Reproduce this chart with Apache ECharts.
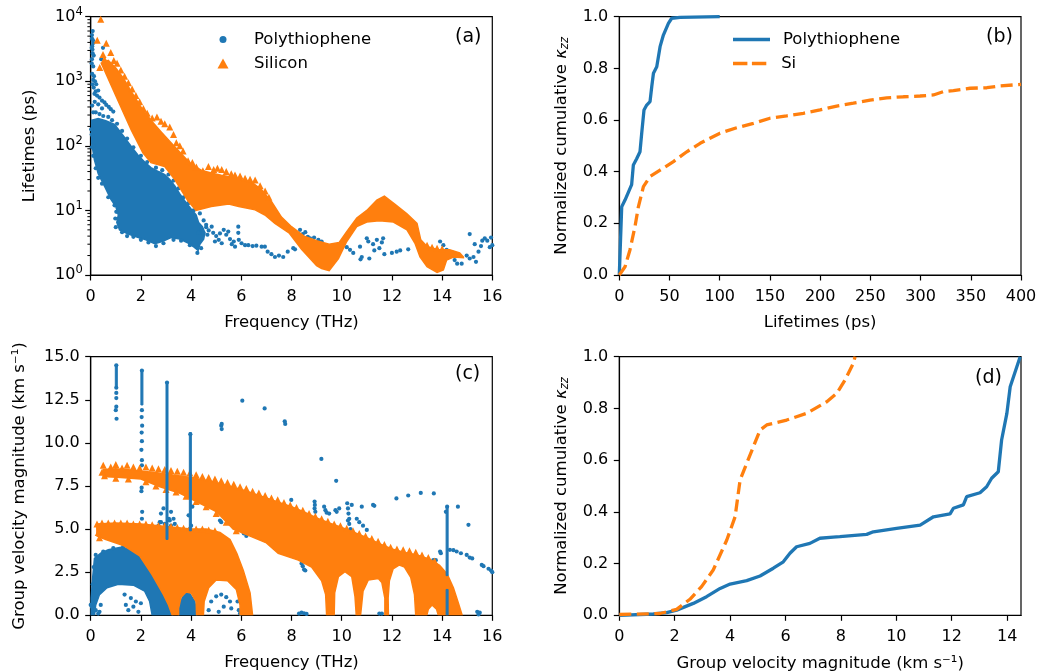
<!DOCTYPE html>
<html><head><meta charset="utf-8">
<script src="https://cdn.jsdelivr.net/npm/echarts@6/dist/echarts.min.js"></script>
<style>html,body{margin:0;padding:0;background:#fff}#c{width:1037px;height:672px}</style>
</head><body><div id="c"></div>
<script>
// ================= DATA =================
// ---- Panel (a): lifetimes vs frequency (log y)
const aMinorTicks = [2,3,4,5,6,7,8,9,20,30,40,50,60,70,80,90,200,300,400,500,600,700,800,900,2000,3000,4000,5000,6000,7000,8000,9000];
const aPolyCloud = [[0.04,250],[0.3,265],[0.6,245],[0.95,215],[1.15,170],[1.35,135],[1.6,100],[1.88,72],[2.15,56],[2.4,46],[2.7,40],[2.95,36],[3.15,30],[3.35,24],[3.55,18],[3.75,14],[4.0,10.5],[4.2,8.5],[4.3,6.5],[4.45,5.6],[4.55,4.5],[4.5,3.6],[4.35,3.0],[4.28,2.4],[4.12,2.7],[3.9,3.1],[3.55,3.6],[3.2,3.8],[2.85,3.3],[2.55,3.05],[2.2,3.5],[1.9,3.8],[1.5,4.3],[1.15,5.0],[1.04,6.5],[1.1,8.5],[1.0,11.5],[0.8,15],[0.57,23],[0.3,37],[0.15,60],[0.04,110]];
const aPolyPts = [[0.2,330],[0.35,310],[0.5,290],[0.7,280],[0.85,250],[1.05,220],[1.25,170],[1.45,130],[1.7,95],[2.0,70],[2.25,56],[2.6,46],[2.85,42],[3.1,36],[3.3,29],[3.5,22],[3.7,16],[3.9,13],[4.1,10],[4.35,9],[4.5,7],[4.6,5.5],[4.65,4.2],[4.4,2.6],[4.25,2.2],[3.95,2.9],[3.6,3.4],[3.3,3.5],[2.9,3.1],[2.6,2.8],[2.3,3.2],[2.0,3.5],[1.7,3.9],[1.45,4.0],[1.25,4.6],[1.0,5.5],[0.98,7.5],[1.02,9.5],[0.95,12],[0.7,16],[0.45,26],[0.3,32],[0.2,45],[0.1,70],[0.05,95],[0.08,140],[0.02,180],
  [0.08,6000],[0.05,4600],[0.1,3900],[0.07,3100],[0.12,2500],[0.05,2200],[0.49,3300],[0.42,2200],[0.1,1050],[0.17,1000],[0.22,900],[0.3,720],[0.12,800],[0.25,600],[0.35,560],[0.45,500],[0.55,470],[0.62,430],[0.72,400],[0.8,370],[0.9,340],[0.16,480],[0.3,440],[0.45,380],[0.06,420],[0.1,330],[0.04,150],[0.12,100],
  [0.05,5200],[0.06,3500],[0.08,2700],[0.04,1900],[0.1,1700],[0.06,1300],[0.09,4300],[0.04,3300],[0.13,1200],[0.07,900],[0.2,700],[0.15,640],
  [4.29,4.5],[4.49,4.5],[4.82,5.6],[4.88,4.5],[5.0,4.0],[5.1,3.5],[5.22,3.1],[5.48,4.7],[5.55,3.6],[5.62,3.0],[5.75,2.75],[5.88,5.6],[5.88,4.5],[5.9,3.5],[6.01,3.1],[6.15,2.9],[6.28,2.9],[6.45,2.8],[6.6,2.85],[6.81,2.75],[6.94,2.75],[7.05,2.3],[7.2,2.1],[7.34,1.9],[7.5,2.0],[7.67,1.9],[7.85,2.3],[8.07,2.6],[8.14,2.5],[8.34,5.0],[8.45,4.3],[8.55,4.6],[8.65,3.9],[8.74,3.7],[8.9,3.8],[9.07,3.5],[9.2,3.3],[10.2,2.7],[10.33,2.45],[10.46,2.2],[10.73,2.75],[10.8,1.9],[10.75,1.75],[11.0,3.7],[11.06,3.3],[11.1,1.8],[11.25,3.0],[11.3,2.4],[11.4,3.5],[11.5,2.6],[11.6,3.2],[11.65,3.7],[11.7,2.1],[12.0,2.2],[12.19,2.3],[12.33,2.4],[12.65,2.5],[13.25,2.75],[13.92,3.3],[14.05,2.9],[14.18,2.45],[14.3,2.0],[14.45,2.2],[14.5,1.7],[14.6,1.5],[14.78,1.5],[14.98,2.0],[15.1,1.8],[15.25,1.9],[15.35,1.6],[15.45,2.3],[15.55,2.8],[15.6,3.4],[15.7,3.7],[15.8,3.4],[15.9,2.7],[16.0,2.9],[15.95,3.8],[15.1,4.3],[15.3,3.0],
  [4.4,5.2],[4.6,6.0],[4.7,4.9],[5.3,5.0],[5.4,4.2],[5.7,3.3],[4.95,3.3],[5.15,4.4]];
const aSiBand = [[0.42,1900],[0.7,2100],[1.0,1600],[1.3,1120],[1.6,710],[2.0,400],[2.4,250],[2.8,166],[3.2,112],[3.6,76],[4.0,52],[4.4,42],[4.8,38],[5.2,35],[5.6,33],[6.0,30],[6.4,27.5],[6.8,21],[7.2,13.8],[7.6,7.9],[8.0,5.6],[8.5,4.0],[9.0,3.4],[9.5,3.0],[9.9,3.2],[10.2,4.7],[10.6,7.6],[11.0,10],[11.4,14.5],[11.7,16.6],[12.1,12.6],[12.6,8.9],[13.0,6.3],[13.15,3.5],[13.4,2.75],[13.9,2.45],[14.3,2.45],[14.7,2.2],[14.85,1.9],
  [14.85,1.85],[14.45,1.9],[14.18,1.7],[14.05,1.2],[13.8,1.1],[13.4,1.35],[13.12,1.9],[12.92,3.1],[12.6,5.0],[12.06,6.6],[11.5,6.9],[11.0,6.6],[10.6,5.6],[10.2,3.3],[9.87,1.8],[9.5,1.17],[9.2,1.26],[9.0,1.4],[8.4,2.5],[7.9,4.5],[7.34,6.3],[6.94,8.5],[6.55,10.2],[5.9,11.5],[5.5,12.6],[4.8,11.5],[4.2,10],[3.88,14],[3.35,30],[2.95,48],[2.4,55],[2.08,78],[1.62,175],[1.09,500],[0.56,1450]];
const aSiPts = [[0.4,9100],[0.26,4300],[0.62,3870],[0.8,2800],[0.49,2600],[0.36,1630],[0.55,2200],[0.92,2100],[1.05,1900],[1.2,1500],[1.35,1200],[1.5,950],[1.65,760],[1.8,600],[1.95,480],[2.1,380],[2.25,320],[2.45,270],[2.64,280],[2.8,240],[2.95,220],[3.15,195],[3.3,150],[3.41,112],[3.55,100],[3.68,83],[3.88,59],[4.05,55],[4.21,47],[4.47,41],[4.69,48],[4.9,43],[5.05,45],[5.22,43],[5.4,40],[5.6,37],[5.75,35.5],[5.95,34],[6.15,31.6],[6.35,30.5],[6.55,29.5],[6.75,24],[6.95,20],[7.1,16],[13.4,2.9],[13.6,2.7],[13.8,2.6],[14.0,2.55]];

// ---- Panel (b): cumulative kappa vs lifetime
const bPT = [[0,0],[2.4,0.264],[5.7,0.29],[9,0.32],[12.3,0.35],[14,0.426],[17.3,0.45],[20.6,0.477],[22.3,0.548],[24.6,0.639],[27.3,0.658],[30.6,0.671],[32.3,0.729],[34,0.781],[37.3,0.806],[40.6,0.884],[43.9,0.929],[48.9,0.974],[52.2,0.994],[60.5,0.997],[100,1.0]];
const bSi = [[0,0],[5.7,0.032],[10.6,0.097],[15.6,0.187],[19,0.264],[24,0.342],[30.6,0.381],[40.6,0.406],[53.9,0.439],[67.2,0.477],[80.5,0.51],[100.3,0.549],[116.9,0.570],[133.5,0.587],[150.1,0.607],[166.7,0.616],[183.3,0.626],[199.9,0.639],[216.5,0.654],[233.1,0.665],[249.7,0.677],[266.3,0.686],[282.9,0.69],[299.5,0.693],[312.8,0.697],[322.8,0.71],[332.7,0.714],[349.3,0.723],[366,0.725],[379.2,0.732],[400,0.738]];

// ---- Panel (c): group velocity vs frequency
const cBlueDome = [[0.02,0],[0.02,1.0],[0.08,2.2],[0.15,3.3],[0.4,3.6],[0.7,3.8],[1.2,3.95],[1.6,3.85],[1.96,3.45],[2.45,2.35],[2.9,1.2],[3.25,0],[2.45,0],[2.35,0.8],[2.15,1.4],[1.7,1.75],[1.1,1.8],[0.65,1.6],[0.35,1.2],[0.2,0.6],[0.15,0]];
const cBlueArch = [[3.5,0],[3.58,0.8],[3.75,1.3],[3.95,1.25],[4.15,0.8],[4.22,0]];
const cBlueLine1 = [[0.98,13.2],[1.06,13.2],[1.06,14.5],[0.98,14.5]];
const cBlueLine2 = [[2.0,12.2],[2.08,12.2],[2.08,14.2],[2.0,14.2]];
const cBlueLine3 = [[3.0,4.4],[3.08,4.4],[3.08,13.5],[3.0,13.5]];
const cBlueLine4 = [[3.93,4.9],[4.01,4.9],[4.01,10.6],[3.93,10.6]];
const cBlueLine5 = [[14.16,2.3],[14.24,2.3],[14.24,6.3],[14.16,6.3]];
const cBlueLine6 = [[14.16,0],[14.24,0],[14.24,1.5],[14.16,1.5]];
const cBluePts = [[1.02,12.6],[1.02,12.1],[1.0,11.9],[1.03,11.4],[1.02,12.9],[1.02,14.5],[1.02,13.2],
  [2.04,11.9],[2.03,11.5],[2.05,11.0],[2.03,10.6],[2.04,10.1],[2.02,9.6],[2.04,9.0],[2.04,8.7],[2.03,7.4],[2.02,7.2],[2.05,6.0],[2.04,5.6],[2.04,14.2],
  [3.04,13.5],[3.0,4.6],[2.95,5.3],[3.12,5.6],[2.9,5.0],[2.8,5.4],[3.2,5.2],[3.3,4.9],[2.75,5.4],[2.8,5.9],[2.9,6.2],[3.2,6.0],[3.3,5.6],[3.35,5.3],[2.7,5.2],[3.15,5.5],
  [3.97,10.5],[3.9,5.8],[4.05,6.3],[4.0,5.2],[3.95,5.0],
  [5.2,11.0],[5.22,10.8],[5.22,11.1],[6.04,12.45],[6.93,12.0],[7.73,11.25],[7.75,11.1],[9.19,9.07],[9.78,7.8],[7.99,6.69],[12.18,6.78],[12.65,6.95],[13.15,7.1],[13.67,7.07],[14.63,6.3],[15.05,5.25],
  [8.92,6.6],[8.93,6.4],[8.92,6.2],[8.95,6.0],[9.3,6.3],[9.35,6.1],[9.4,5.95],[9.5,5.9],[9.75,6.1],[9.8,6.0],[9.9,6.2],[10.22,6.5],[10.25,6.2],[10.27,5.9],[10.3,5.6],[10.3,5.3],[10.35,5.0],[10.25,5.5],[10.4,6.4],[10.6,5.6],[10.7,5.4],[10.8,6.3],[10.85,5.2],[11.0,4.95],[11.25,6.4],[11.3,6.35],
  [14.15,6.0],[14.2,6.3],
  [13.65,3.2],[13.75,3.2],[13.92,3.7],[13.95,3.6],[14.31,3.8],[14.45,3.78],[14.58,3.7],[14.75,3.6],[14.98,3.5],[15.1,3.35],[15.2,3.3],[15.58,2.92],[15.65,2.85],[15.85,2.7],[15.95,2.6],[16.0,2.5],
  [8.4,3.0],[8.45,2.85],[8.5,2.65],[8.55,2.6],[5.15,5.5],[5.2,5.4],[5.6,5.4],[5.7,5.1],[5.95,5.0],[6.15,4.9],[6.2,4.6],[6.1,4.75],
  [8.3,0.1],[8.4,0.15],[8.5,0.12],[8.6,0.08],[11.5,0.1],[11.6,0.1],[15.4,0.2],[15.5,0.15],[15.45,0.05],[0.05,0.5],[0.1,0.2],[0.2,0.3],[0.3,0.1],[0.0,0.6],
  [4.7,0.3],[4.8,0.8],[5.0,1.1],[5.2,1.2],[5.4,1.05],[5.55,0.8],[5.6,0.4],[5.1,0.2],[5.3,0.5],[5.9,0.3],[5.85,0.8],[5.95,0.1],
  [1.4,0.6],[1.5,0.3],[1.6,1.0],[1.7,0.5],[1.8,0.8],[1.9,0.2],[2.0,0.7],[1.35,1.2],[0.4,0.6],[0.35,0.2],
  [0.2,3.5],[0.5,3.7],[0.9,3.9],[1.3,4.0],[0.12,2.8],[0.08,1.8]];
const cSiUpper = [[0.5,8.45],[1.0,8.5],[1.5,8.45],[2.0,8.35],[2.5,8.3],[3.0,8.2],[3.5,8.1],[4.0,8.0],[4.5,7.85],[5.0,7.7],[5.5,7.5],[6.0,7.3],[6.5,7.05],[7.0,6.8],[7.5,6.55],[8.0,6.3],[8.5,6.0],[9.0,5.65],[9.5,5.35],[10.0,5.1],[10.5,4.8],[11.0,4.5],[11.5,4.15],[12.0,3.85],[12.5,3.65],[13.0,3.5],[13.5,3.25],[13.9,2.9],[14.2,2.4],[14.45,1.6],[14.65,0.7],[14.8,0],
  [13.85,0],[13.78,0.35],[13.6,0.6],[13.45,0.35],[13.39,0],[12.95,0],[12.9,1.2],[12.75,2.2],[12.5,2.8],[12.3,2.92],[12.05,2.7],[11.9,2.0],[11.85,1.0],[11.86,0],[11.72,0],[11.72,1.0],[11.6,1.9],[11.46,2.14],[11.06,2.05],[10.85,1.4],[10.78,0.4],[10.75,0],[10.58,0],[10.53,1.08],[10.4,2.24],[10.13,2.53],[9.87,2.24],[9.72,1.3],[9.7,0],[9.4,0],[9.36,1.2],[9.2,2.0],[8.8,2.8],[8.27,3.2],[7.47,3.6],[7.0,4.2],[6.35,4.6],[5.68,5.0],[5.02,6.0],[4.35,6.5],[3.56,7.07],[2.76,7.46],[2.0,7.9],[1.2,8.0],[0.5,8.05]];
const cSiLower = [[0.24,5.3],[1.0,5.35],[2.0,5.3],[3.0,5.15],[4.0,5.0],[4.6,5.0],[5.15,4.8],[5.55,4.4],[5.82,3.6],[6.08,2.6],[6.35,1.3],[6.45,0],[5.95,0],[5.95,0.6],[5.8,1.5],[5.45,2.0],[5.0,2.05],[4.7,1.6],[4.52,0.8],[4.49,0],[4.22,0],[4.2,0.8],[4.0,1.3],[3.8,1.35],[3.6,1.05],[3.5,0.4],[3.5,0],[3.25,0],[3.1,0.6],[2.9,1.2],[2.45,2.35],[1.95,3.45],[1.3,4.05],[0.6,4.4],[0.25,4.6]];
const cSiPts = [[0.5,8.7],[0.8,8.6],[1.0,8.75],[1.25,8.55],[1.45,8.7],[1.7,8.6],[1.95,8.55],[2.2,8.6],[2.45,8.55],[2.7,8.5],[2.95,8.45],[3.2,8.4],[3.45,8.35],[3.7,8.3],[3.95,8.25],[4.2,8.15],[4.45,8.05],[4.7,8.0],[4.95,7.9],[5.2,7.8],[5.45,7.7],[5.7,7.6],[5.95,7.45],[6.2,7.35],[6.45,7.2],[6.7,7.1],[6.95,6.95],[7.2,6.8],[7.45,6.7],[7.7,6.55],[7.95,6.4],[8.2,6.25],[8.45,6.1],[8.7,5.9],[8.95,5.75],[9.2,5.6],[9.45,5.45],[9.7,5.3],[9.95,5.2],[10.2,5.05],[10.45,4.9],[10.7,4.75],[10.95,4.6],[11.2,4.45],[11.45,4.3],[11.7,4.1],[11.95,3.95],[12.2,3.85],[12.45,3.8],[12.7,3.75],[12.95,3.65],[13.2,3.5],[13.45,3.35],[13.7,3.15],[0.55,8.1],[0.45,8.3],
  [0.25,5.3],[0.45,5.35],[0.7,5.35],[0.95,5.35],[1.2,5.35],[1.45,5.35],[1.7,5.3],[1.95,5.3],[2.2,5.3],[2.45,5.25],[2.7,5.2],[2.95,5.2],[3.2,5.15],[3.45,5.1],[3.7,5.05],[3.95,5.05],[4.2,5.0],[4.45,5.0],[4.7,4.95],[4.95,4.9],[0.3,4.8],[0.35,4.5],
  [1.0,7.95],[1.5,7.9],[2.2,7.75],[2.6,7.5],[3.0,7.3],[3.4,7.15],[3.8,6.9],[4.2,6.6],[4.6,6.3],[5.0,5.9],[5.4,5.4],[5.8,4.9]];

// ---- Panel (d): cumulative kappa vs group velocity
const dTicks = [0,2,4,6,8,10,12,14];
const dPT = [[0,0],[1.23,0.005],[1.71,0.01],[2.07,0.02],[2.67,0.046],[3.15,0.072],[3.64,0.104],[4.0,0.121],[4.6,0.134],[5.08,0.152],[5.56,0.182],[5.92,0.207],[6.16,0.24],[6.4,0.265],[6.88,0.278],[7.24,0.298],[7.72,0.302],[7.96,0.304],[8.93,0.313],[9.17,0.323],[10.01,0.336],[10.86,0.349],[11.34,0.381],[11.94,0.392],[12.06,0.414],[12.42,0.427],[12.54,0.459],[13.02,0.474],[13.26,0.497],[13.44,0.53],[13.68,0.555],[13.8,0.678],[13.99,0.781],[14.11,0.884],[14.35,0.961],[14.47,1.0]];
const dSi = [[0,0.003],[1.47,0.007],[2.07,0.023],[2.55,0.062],[2.97,0.111],[3.39,0.175],[3.88,0.291],[4.18,0.381],[4.36,0.523],[4.6,0.588],[4.84,0.652],[5.08,0.716],[5.32,0.736],[6.04,0.755],[6.76,0.781],[7.49,0.826],[7.85,0.858],[8.15,0.91],[8.45,0.975],[8.51,1.0]];

// ================= CHART =================
const BLUE = '#1f77b4', ORANGE = '#ff7f0e', FONT = 'DejaVu Sans';
const chart = echarts.init(document.getElementById('c'), null, {renderer: 'canvas'});

const grids = [
  {left: 90.7, top: 16.7, width: 401.6, height: 258.3},
  {left: 619.3, top: 16.7, width: 401.7, height: 258.3},
  {left: 90.7, top: 356.7, width: 401.6, height: 258.6},
  {left: 619.3, top: 356.7, width: 401.7, height: 258.6}
].map(g => Object.assign(g, {show: true, borderColor: '#000', borderWidth: 1.2, backgroundColor: 'transparent', containLabel: false, outerBoundsMode: 'none'}));

const XM = 13.5;
function xLabel(extra) {
  return Object.assign({color: '#000', fontSize: 16, fontFamily: FONT, margin: XM, verticalAlign: 'top', lineHeight: 16}, extra || {});
}
function axis(o) {
  return Object.assign({
    type: 'value',
    axisLine: {show: true, onZero: false, lineStyle: {color: '#000', width: 1.2}},
    axisTick: {show: true, inside: false, length: 5.5, lineStyle: {color: '#000', width: 1.2}},
    axisLabel: xLabel(),
    splitLine: {show: false},
    nameLocation: 'middle',
    nameTextStyle: {color: '#000', fontSize: 16.5, fontFamily: FONT}
  }, o);
}
const kRich = {
  k: {fontSize: 16.5, fontFamily: FONT, fontStyle: 'italic', color: '#000'},
  sub: {fontSize: 11.5, fontFamily: FONT, fontStyle: 'italic', color: '#000', padding: [8, 0, 0, 0]}
};
const kName = 'Normalized cumulative {k|κ}{sub|zz}';

const xAxes = [
  axis({gridIndex: 0, min: 0, max: 16, interval: 2, name: 'Frequency (THz)', nameGap: 39}),
  axis({gridIndex: 1, min: 0, max: 400, interval: 50, name: 'Lifetimes (ps)', nameGap: 39}),
  axis({gridIndex: 2, min: 0, max: 16, interval: 2, name: 'Frequency (THz)', nameGap: 39}),
  axis({gridIndex: 3, min: 0, max: 14.5, name: 'Group velocity magnitude (km s⁻¹)', nameGap: 40,
        axisTick: {show: true, inside: false, length: 5.5, customValues: dTicks, lineStyle: {color: '#000', width: 1.2}},
        axisLabel: xLabel({customValues: dTicks})})
];
function yLabel(extra) {
  return Object.assign({color: '#000', fontSize: 16, fontFamily: FONT, margin: 11, formatter: v => v.toFixed(1)}, extra || {});
}
const yAxes = [
  axis({gridIndex: 0, type: 'log', logBase: 10, min: 1, max: 10000, name: 'Lifetimes (ps)', nameGap: 52,
        axisLabel: {color: '#000', fontSize: 16, fontFamily: FONT, margin: 8,
          formatter: v => '10{s|' + Math.round(Math.log10(v)) + '}',
          rich: {s: {fontSize: 11.5, fontFamily: FONT, color: '#000', padding: [0, 0, 9, 0]}}}}),
  axis({gridIndex: 1, min: 0, max: 1, interval: 0.2, name: kName, nameGap: 48,
        nameTextStyle: {color: '#000', fontSize: 16.5, fontFamily: FONT, rich: kRich}, axisLabel: yLabel()}),
  axis({gridIndex: 2, min: 0, max: 15, interval: 2.5, name: 'Group velocity magnitude (km s⁻¹)', nameGap: 62, axisLabel: yLabel()}),
  axis({gridIndex: 3, min: 0, max: 1, interval: 0.2, name: kName, nameGap: 48,
        nameTextStyle: {color: '#000', fontSize: 16.5, fontFamily: FONT, rich: kRich}, axisLabel: yLabel()})
];

function poly(pts, color, gi, z, lw) {
  return {
    type: 'custom', xAxisIndex: gi, yAxisIndex: gi, clip: true, silent: true, z: z,
    data: pts, encode: {x: 0, y: 1},
    renderItem: function (params, api) {
      if (params.dataIndex !== 0) return;
      const p = pts.map(d => api.coord(d));
      return {type: 'polygon', shape: {points: p}, style: {fill: color, stroke: color, lineWidth: lw == null ? 1.5 : lw}};
    }
  };
}
function scat(name, pts, color, gi, sym, size, z) {
  return {name: name, type: 'scatter', xAxisIndex: gi, yAxisIndex: gi, data: pts, symbol: sym, symbolSize: size,
    itemStyle: {color: color, opacity: 1}, silent: true, z: z, clip: true};
}
function line(name, pts, color, gi, dashed) {
  return {name: name, type: 'line', xAxisIndex: gi, yAxisIndex: gi, data: pts, showSymbol: false, symbol: 'none',
    itemStyle: {color: color}, lineStyle: {color: color, width: 3.3, type: dashed ? [12, 5.5] : 'solid', cap: 'butt'},
    silent: true, z: 3};
}

const series = [
  {type: 'custom', xAxisIndex: 0, yAxisIndex: 0, clip: false, silent: true, z: 5,
   data: aMinorTicks.map(v => [0, v]), encode: {x: 0, y: 1},
   renderItem: function (params, api) {
     const p = api.coord([0, api.value(1)]);
     return {type: 'line', shape: {x1: p[0] - 3.3, y1: p[1], x2: p[0], y2: p[1]}, style: {stroke: '#000', lineWidth: 1}};
   }},
  poly(aPolyCloud, BLUE, 0, 1),
  scat('PT-a', aPolyPts, BLUE, 0, 'circle', 4.2, 2),
  poly(aSiBand, ORANGE, 0, 3),
  scat('Si-a', aSiPts, ORANGE, 0, 'triangle', 7, 4),
  line('PT-b', bPT, BLUE, 1, false),
  line('Si-b', bSi, ORANGE, 1, true),
  poly(cBlueDome, BLUE, 2, 1),
  poly(cBlueArch, BLUE, 2, 1),
  scat('PT-c', cBluePts, BLUE, 2, 'circle', 4.2, 2),
  poly(cSiUpper, ORANGE, 2, 3),
  poly(cSiLower, ORANGE, 2, 3),
  scat('Si-c', cSiPts, ORANGE, 2, 'triangle', 7, 4),
  poly(cBlueLine1, BLUE, 2, 5, 1),
  poly(cBlueLine2, BLUE, 2, 5, 1),
  poly(cBlueLine3, BLUE, 2, 5, 1),
  poly(cBlueLine4, BLUE, 2, 5, 1),
  poly(cBlueLine5, BLUE, 2, 5, 1),
  poly(cBlueLine6, BLUE, 2, 5, 1),
  line('PT-d', dPT, BLUE, 3, false),
  line('Si-d', dSi, ORANGE, 3, true)
];

const legText = {'PT-a': 'Polythiophene', 'Si-a': 'Silicon', 'PT-b': 'Polythiophene', 'Si-b': 'Si'};
function leg(name, icon, left, top, w, h, pad) {
  return {data: [{name: name, icon: icon}], left: left, top: top, itemWidth: w, itemHeight: h, padding: 0,
    selectedMode: false, formatter: n => legText[n],
    textStyle: {color: '#000', fontSize: 16.5, fontFamily: FONT, padding: [0, 0, 0, pad]}};
}
const legends = [
  leg('PT-a', 'circle', 219.5, 31, 7, 7, 22.5),
  leg('Si-a', 'triangle', 217.5, 55, 11, 10, 20.5),
  leg('PT-b', 'rect', 733, 31, 37, 3.6, 8),
  leg('Si-b', 'path://M0 0H16V4H0Z M21 0H37V4H21Z', 733, 55, 37, 3.6, 8)
];

function panel(t, left, top) {
  return {text: t, left: left, top: top, padding: 0, textStyle: {color: '#000', fontSize: 19, fontWeight: 'normal', fontFamily: FONT}};
}

chart.setOption({
  animation: false,
  backgroundColor: '#fff',
  textStyle: {fontFamily: FONT},
  title: [panel('(a)', 455, 28), panel('(b)', 986, 28), panel('(c)', 455, 365), panel('(d)', 975, 369)],
  legend: legends,
  grid: grids,
  xAxis: xAxes,
  yAxis: yAxes,
  series: series
});
</script></body></html>
